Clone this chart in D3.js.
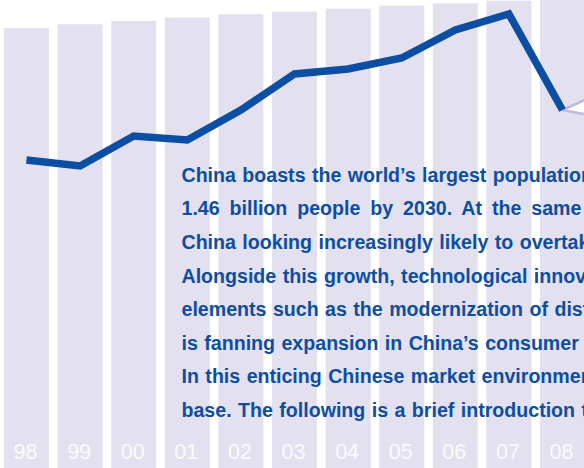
<!DOCTYPE html>
<html>
<head>
<meta charset="utf-8">
<script src="https://cdn.jsdelivr.net/npm/d3@7"></script>
<style>
  html, body { margin: 0; padding: 0; background: #fff; }
  svg { display: block; }
</style>
</head>
<body>
<div class="chart"></div>
<script>
// years shown under the bars
var years = ["98", "99", "00", "01", "02", "03", "04", "05", "06", "07", "08"];
// bar series (millions)
var barValues = [1248, 1258, 1267, 1276, 1285, 1292, 1300, 1308, 1314, 1321, 1328];
// line series
var lineValues = [6.5, 6.2, 7.7, 7.5, 9.0, 10.8, 11.05, 11.6, 13.0, 13.8, 9.0];
// outlook range for the next year (high, low)
var outlookYear = "09";
var outlookValues = [10.2, 8.5];

var bodyText = [
    "China boasts the world’s largest population",
    "1.46 billion people by 2030. At the same time",
    "China looking increasingly likely to overtake",
    "Alongside this growth, technological innovation",
    "elements such as the modernization of distribution",
    "is fanning expansion in China’s consumer market",
    "In this enticing Chinese market environment",
    "base. The following is a brief introduction to"
];

var width = 584, height = 468;

var svg = d3.select("div.chart").append("svg")
    .attr("width", width)
    .attr("height", height);

var x = d3.scaleBand()
    .domain(years.concat([outlookYear]))
    .range([4, 4 + 53.6 * 11 + 45])
    .paddingInner(0.16)
    .paddingOuter(0);

var yBar = d3.scaleLinear().domain([1248, 1328]).range([28, -1.9]);
var yLine = d3.scaleLinear().domain([0, 14.5]).range([290, 0]);

var cx = function (yr) { return x(yr) + x.bandwidth() / 2; };

// bars
svg.selectAll("rect.bar").data(years).enter().append("rect")
    .attr("class", "bar")
    .attr("x", function (d) { return x(d); })
    .attr("y", function (d, i) { return yBar(barValues[i]); })
    .attr("width", x.bandwidth())
    .attr("height", function (d, i) { return height - yBar(barValues[i]); })
    .attr("fill", "#e3e1f0");

// year labels
svg.selectAll("text.year").data(years).enter().append("text")
    .attr("class", "year")
    .attr("x", function (d) { return cx(d) - 1; })
    .attr("y", 459)
    .attr("text-anchor", "middle")
    .style("font-family", "'Liberation Sans', Arial, sans-serif")
    .style("font-size", "21.5px")
    .attr("fill", "#fbfbfd")
    .text(function (d) { return d; });

// outlook fan from the last point
var last = years[years.length - 1];
var lastPt = [cx(last), yLine(lineValues[lineValues.length - 1])];
var fan = [
    [cx(outlookYear), yLine(outlookValues[0])],
    lastPt,
    [cx(outlookYear), yLine(outlookValues[1])]
];
svg.append("path")
    .attr("d", d3.line()(fan))
    .attr("fill", "#fff")
    .attr("stroke", "#bcb8de")
    .attr("stroke-width", 2.5)
    .attr("stroke-linejoin", "miter");

// main line
var line = d3.line()
    .x(function (d, i) { return cx(years[i]); })
    .y(function (d) { return yLine(d); });

svg.append("path")
    .datum(lineValues)
    .attr("d", line)
    .attr("fill", "none")
    .attr("stroke", "#0b4ea2")
    .attr("stroke-width", 7.5)
    .attr("stroke-linejoin", "miter");

// body text (line with figures sets wider in the original face)
svg.append("g").selectAll("text").data(bodyText).enter().append("text")
    .attr("x", 181.5)
    .attr("y", function (d, i) { return 181.7 + i * 33.6; })
    .style("font-family", "'Liberation Sans', Arial, sans-serif")
    .style("font-weight", "bold")
    .style("font-size", "19.6px")
    .style("word-spacing", function (d, i) { return i === 1 ? "4.5px" : "1px"; })
    .attr("fill", "#0d4ea0")
    .text(function (d) { return d; });
</script>
</body>
</html>
